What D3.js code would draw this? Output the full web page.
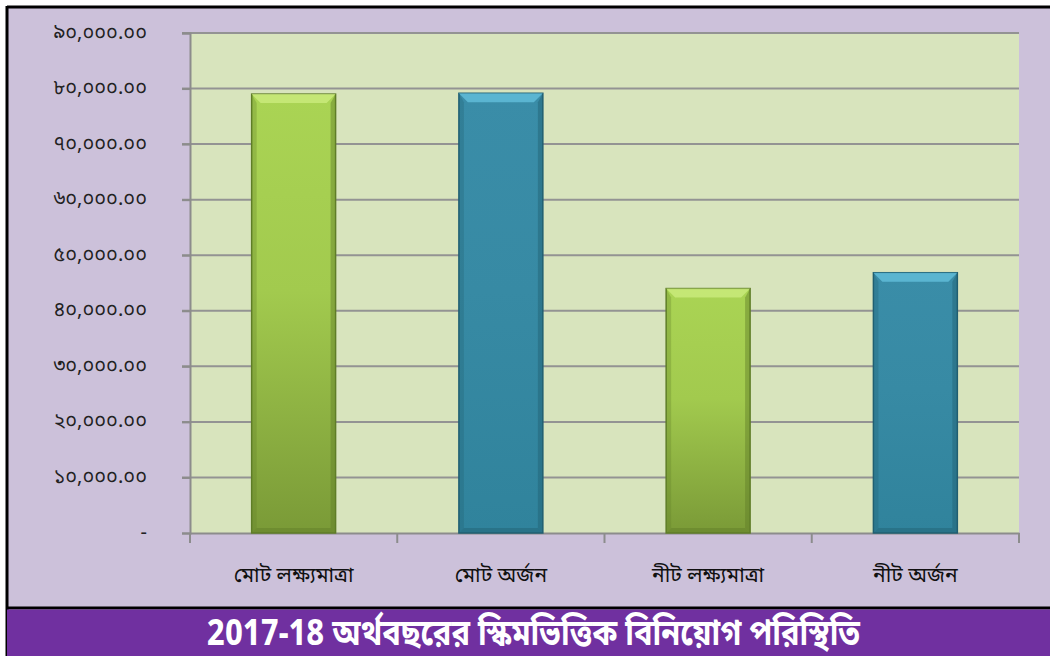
<!DOCTYPE html>
<html>
<head>
<meta charset="utf-8">
<script src="https://cdn.jsdelivr.net/npm/d3@7"></script>
<style>
	html, body { margin: 0; padding: 0; background: #fff; }
	svg { display: block; }
</style>
</head>
<body>
<div id="chart"></div>
<script>
(function () {
	'use strict';

	// data
	var categories = ['মোট লক্ষ্যমাত্রা', 'মোট অর্জন', 'নীট লক্ষ্যমাত্রা', 'নীট অর্জন'];
	var values = [79000, 79150, 44000, 46850];
	var kinds = ['target', 'achieved', 'target', 'achieved'];
	var yTicks = [0, 10000, 20000, 30000, 40000, 50000, 60000, 70000, 80000, 90000];
	var yTickLabels = ['-', '১০,০০০.০০', '২০,০০০.০০', '৩০,০০০.০০', '৪০,০০০.০০',
		'৫০,০০০.০০', '৬০,০০০.০০', '৭০,০০০.০০', '৮০,০০০.০০', '৯০,০০০.০০'];
	var title = '2017-18 অর্থবছরের স্কিমভিত্তিক বিনিয়োগ পরিস্থিতি';

	var width = 1050, height = 656;
	var plot = { left: 190, right: 1019, top: 33, bottom: 533 };
	var bengaliFont = '"Noto Sans Bengali", "Noto Serif Bengali", "Lohit Bengali", "Vrinda", "Noto Sans", sans-serif';

	var colors = {
		target: { top: '#aad454', mid: '#a2ca4e', bottom: '#7a9a37', bevel: '#cdee80', edge: '#5f7d28' },
		achieved: { top: '#3a8da8', mid: '#378aa4', bottom: '#30839c', bevel: '#66c3df', edge: '#215f72' }
	};

	var svg = d3.select('#chart').append('svg')
		.attr('width', width)
		.attr('height', height);

	var defs = svg.append('defs');
	Object.keys(colors).forEach(function (k) {
		var g = defs.append('linearGradient')
			.attr('id', 'grad-' + k)
			.attr('x1', 0).attr('y1', 0).attr('x2', 0).attr('y2', 1);
		g.append('stop').attr('offset', '0%').attr('stop-color', colors[k].top);
		g.append('stop').attr('offset', '45%').attr('stop-color', colors[k].mid);
		g.append('stop').attr('offset', '100%').attr('stop-color', colors[k].bottom);
	});

	// outer frame
	svg.append('rect')
		.attr('x', 7).attr('y', 7)
		.attr('width', width - 7).attr('height', height - 7)
		.attr('fill', '#ccc1da');
	svg.append('line')
		.attr('x1', 7).attr('x2', width).attr('y1', 7).attr('y2', 7)
		.attr('stroke', '#000').attr('stroke-width', 3);
	svg.append('line')
		.attr('x1', 7).attr('x2', 7).attr('y1', 6).attr('y2', height)
		.attr('stroke', '#000').attr('stroke-width', 3);

	var x = d3.scaleBand()
		.domain(categories)
		.range([plot.left, plot.right])
		.paddingInner(0.595)
		.paddingOuter(0.2975);

	var y = d3.scaleLinear()
		.domain([0, 90000])
		.range([plot.bottom, plot.top]);

	// plot area
	svg.append('rect')
		.attr('x', plot.left).attr('y', plot.top)
		.attr('width', plot.right - plot.left)
		.attr('height', plot.bottom - plot.top)
		.attr('fill', '#d8e4bd');

	// gridlines
	svg.append('g')
		.selectAll('line')
		.data(yTicks.slice(1))
		.enter().append('line')
		.attr('x1', plot.left - 8).attr('x2', plot.right)
		.attr('y1', function (d) { return y(d); })
		.attr('y2', function (d) { return y(d); })
		.attr('stroke', '#939393')
		.attr('stroke-width', 2);

	// y axis
	var yAxis = d3.axisLeft(y)
		.tickValues(yTicks)
		.tickSize(8)
		.tickPadding(35)
		.tickFormat(function (d, i) { return yTickLabels[i]; });
	var gy = svg.append('g')
		.attr('transform', 'translate(' + plot.left + ',0)')
		.call(yAxis);
	gy.select('.domain').attr('stroke', '#8c8c8c').attr('stroke-width', 2);
	gy.selectAll('.tick line').attr('stroke', '#8c8c8c').attr('stroke-width', 2);
	gy.selectAll('.tick text')
		.attr('fill', '#222')
		.attr('dy', '0.25em')
		.style('font-family', bengaliFont)
		.style('font-size', '20px');

	// x axis
	var xAxis = d3.axisBottom(x).tickSize(0).tickPadding(34);
	var gx = svg.append('g')
		.attr('transform', 'translate(0,' + plot.bottom + ')')
		.call(xAxis);
	gx.select('.domain').attr('stroke', '#8c8c8c').attr('stroke-width', 2);
	gx.selectAll('.tick text')
		.attr('fill', '#111')
		.style('font-family', bengaliFont)
		.style('font-size', '21px');
	var step = x.step();
	gx.selectAll('.sep')
		.data(d3.range(categories.length + 1))
		.enter().append('line')
		.attr('class', 'sep')
		.attr('x1', function (i) { return plot.left + i * step; })
		.attr('x2', function (i) { return plot.left + i * step; })
		.attr('y1', 0).attr('y2', 10)
		.attr('stroke', '#8c8c8c').attr('stroke-width', 2);

	// bars with a bevelled look
	var bev = 9;
	var bars = svg.append('g')
		.selectAll('g')
		.data(categories)
		.enter().append('g');

	bars.append('rect')
		.attr('x', function (d) { return x(d); })
		.attr('y', function (d, i) { return y(values[i]); })
		.attr('width', x.bandwidth())
		.attr('height', function (d, i) { return y(0) - y(values[i]); })
		.attr('fill', function (d, i) { return 'url(#grad-' + kinds[i] + ')'; })
		.attr('stroke', function (d, i) { return colors[kinds[i]].edge; })
		.attr('stroke-width', 1.5);

	// top bevel
	bars.append('polygon')
		.attr('points', function (d, i) {
			var x0 = x(d), x1 = x(d) + x.bandwidth(), t = y(values[i]);
			return [[x0, t], [x1, t], [x1 - bev, t + bev], [x0 + bev, t + bev]].join(' ');
		})
		.attr('fill', function (d, i) { return colors[kinds[i]].bevel; })
		.attr('opacity', 0.75);

	// side shading
	bars.append('polygon')
		.attr('points', function (d, i) {
			var x1 = x(d) + x.bandwidth(), t = y(values[i]), b = y(0);
			return [[x1, t], [x1, b], [x1 - 5, b - 5], [x1 - 5, t + bev]].join(' ');
		})
		.attr('fill', function (d, i) { return colors[kinds[i]].edge; })
		.attr('opacity', 0.45);
	bars.append('polygon')
		.attr('points', function (d, i) {
			var x0 = x(d), t = y(values[i]), b = y(0);
			return [[x0, t], [x0, b], [x0 + 5, b - 5], [x0 + 5, t + bev]].join(' ');
		})
		.attr('fill', function (d, i) { return colors[kinds[i]].edge; })
		.attr('opacity', 0.3);
	bars.append('polygon')
		.attr('points', function (d) {
			var x0 = x(d), x1 = x(d) + x.bandwidth(), b = y(0);
			return [[x0, b], [x1, b], [x1 - 5, b - 5], [x0 + 5, b - 5]].join(' ');
		})
		.attr('fill', function (d, i) { return colors[kinds[i]].edge; })
		.attr('opacity', 0.45);

	// title strip
	svg.append('line')
		.attr('x1', 7).attr('x2', width).attr('y1', 608).attr('y2', 608)
		.attr('stroke', '#000').attr('stroke-width', 3);
	svg.append('rect')
		.attr('x', 7).attr('y', 609.5)
		.attr('width', width - 7).attr('height', height - 609.5)
		.attr('fill', '#7030a0');
	svg.append('text')
		.attr('x', 207).attr('y', 645)
		.attr('textLength', 653)
		.attr('lengthAdjust', 'spacingAndGlyphs')
		.attr('fill', '#fff')
		.style('font-family', bengaliFont)
		.style('font-weight', 'bold')
		.style('font-size', '36px')
		.text(title);
}());
</script>
</body>
</html>
